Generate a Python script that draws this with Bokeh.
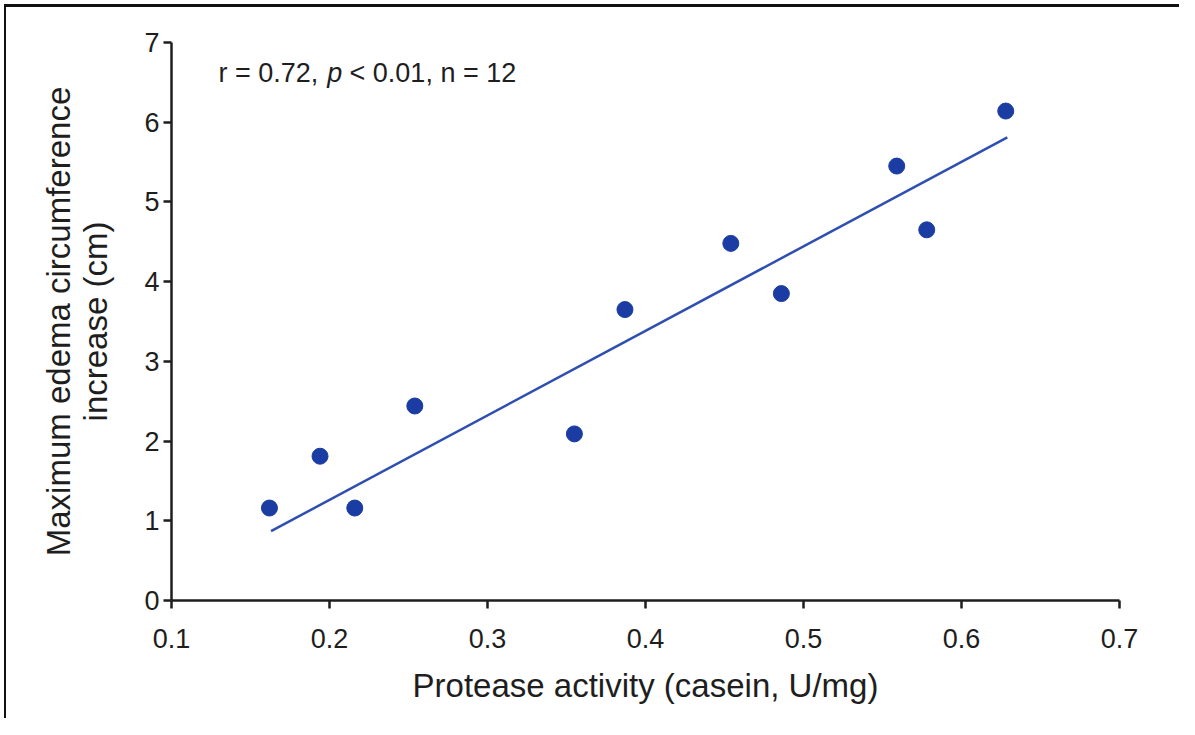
from bokeh.plotting import figure
from bokeh.models import FixedTicker, Label
from bokeh.embed import file_html
from bokeh.resources import INLINE

# ---- data ----
protease = [0.162, 0.194, 0.216, 0.254, 0.355, 0.387, 0.454, 0.486, 0.559, 0.578, 0.628]
edema = [1.16, 1.81, 1.16, 2.44, 2.09, 3.65, 4.48, 3.85, 5.45, 4.65, 6.14]
fit_x = [0.163, 0.629]
fit_y = [0.87, 5.81]
x_ticks = [0.1, 0.2, 0.3, 0.4, 0.5, 0.6, 0.7]
x_tick_labels = ["0.1", "0.2", "0.3", "0.4", "0.5", "0.6", "0.7"]
y_ticks = [0, 1, 2, 3, 4, 5, 6, 7]
x_label = "Protease activity (casein, U/mg)"
y_label = "Maximum edema circumference\nincrease (cm)"
stat_parts = ["r = 0.72,", "p", "< 0.01, n = 12"]

FONT = "Liberation Sans"
INK = "#1e1e1e"

p = figure(frame_width=948, frame_height=558,
           min_border_left=165, min_border_right=60,
           min_border_top=35, min_border_bottom=118,
           x_range=(0.1, 0.7), y_range=(0, 7),
           output_backend="svg", toolbar_location=None,
           background_fill_color="white", border_fill_color="white")
p.styles = {"margin-left": "4px", "margin-top": "4px",
            "border-left": "2px solid #111", "border-top": "3px solid #111"}
p.outline_line_color = None
p.grid.visible = False

for ax in (p.xaxis[0], p.yaxis[0]):
    ax.axis_line_width = 2.5
    ax.axis_line_color = INK
    ax.major_tick_line_width = 2.5
    ax.major_tick_line_color = INK
    ax.major_tick_out = 8
    ax.major_tick_in = 0
    ax.minor_tick_line_color = None
    ax.major_label_text_font = FONT
    ax.major_label_text_font_size = "27px"
    ax.major_label_text_color = INK
    ax.axis_label_text_font = FONT
    ax.axis_label_text_font_size = "33px"
    ax.axis_label_text_font_style = "normal"
    ax.axis_label_text_color = INK

p.xaxis[0].ticker = FixedTicker(ticks=x_ticks)
p.xaxis[0].major_label_overrides = {t: l for t, l in zip(x_ticks, x_tick_labels)}
p.xaxis[0].major_label_standoff = 20
p.xaxis[0].axis_label = x_label
p.xaxis[0].axis_label_standoff = 16

p.yaxis[0].ticker = FixedTicker(ticks=y_ticks)
p.yaxis[0].major_label_standoff = 4
p.yaxis[0].axis_label = y_label
p.yaxis[0].axis_label_standoff = 27
p.yaxis[0].axis_label_text_line_height = 1.0

p.line(fit_x, fit_y, line_color="#2f4fb0", line_width=2.5)
p.scatter(protease, edema, size=16, fill_color="#1a3ca3", line_color="#1a3ca3")

common = dict(y=6.62, text_font=FONT, text_font_size="27px", text_color=INK,
              text_baseline="middle", text_align="left")
p.add_layout(Label(x=0.1297, text=stat_parts[0], **common))
p.add_layout(Label(x=0.1985, text=stat_parts[1], text_font_style="italic", **common))
p.add_layout(Label(x=0.2127, text=stat_parts[2], **common))

open("out.html", "w").write(file_html(p, INLINE))
